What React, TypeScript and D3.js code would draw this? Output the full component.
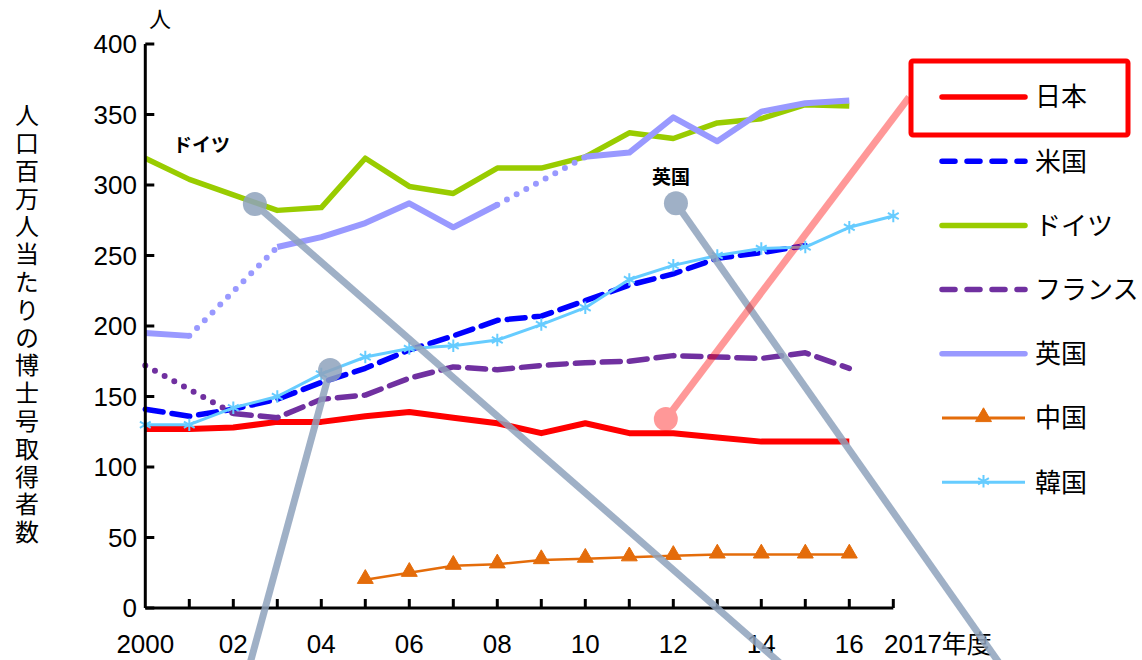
import React from "react";
import * as d3 from "d3";

const years = d3.range(2000, 2018);
// values per year 2000..2017 (null = no data)
const japan = [127, 127, 128, 132, 132, 136, 139, 135, 131, 124, 131, 124, 124, 121, 118, 118, 118, null];
const usa = [141, 136, 141, 148, 160, 170, 183, 193, 204, 207, 218, 229, 237, 248, 252, 257, null, null];
const germany = [319, 304, 293, 282, 284, 319, 299, 294, 312, 312, 320, 337, 333, 344, 347, 357, 356, null];
const france = [172, null, 138, 135, 148, 151, 163, 171, 169, 172, 174, 175, 179, 178, 177, 181, 170, null];
const uk = [195, 193, null, 256, 263, 273, 287, 270, 286, null, 320, 323, 348, 331, 352, 358, 360, null];
const china = [null, null, null, null, null, 20, 25, 30, 31, 34, 35, 36, 37, 38, 38, 38, 38, null];
const korea = [130, 130, 142, 150, 166, 178, 184, 186, 190, 201, 213, 233, 243, 250, 255, 256, 270, 278];

const yTicks = [0, 50, 100, 150, 200, 250, 300, 350, 400];
const xLabelYears = [2000, 2002, 2004, 2006, 2008, 2010, 2012, 2014, 2016];
const xLabelText = ["2000", "02", "04", "06", "08", "10", "12", "14", "16"];
const yTitle = "人口百万人当たりの博士号取得者数";

// annotation callouts in data units: [circleYear, circleValue, endYear, endValue]
const grayCallouts = [
  [2002.49, 286.5, 2014.9, -52],
  [2004.2, 168.8, 2002.27, -52],
  [2012.06, 287, 2019.7, -52],
];
const pinkCallout = [2011.83, 134, 2017.36, 362.4];

type Series = {
  name: string;
  values: (number | null)[];
  color: string;
  width: number;
  dash?: string;
  marker?: "triangle" | "asterisk";
};

const series: Series[] = [
  { name: "日本", values: japan, color: "#ff0000", width: 6 },
  { name: "米国", values: usa, color: "#0000ff", width: 5.5, dash: "18 9" },
  { name: "ドイツ", values: germany, color: "#99cc00", width: 5.5 },
  { name: "フランス", values: france, color: "#7030a0", width: 5.5, dash: "18 9" },
  { name: "英国", values: uk, color: "#9999ff", width: 6 },
  { name: "中国", values: china, color: "#e46c0a", width: 2.5, marker: "triangle" },
  { name: "韓国", values: korea, color: "#66ccff", width: 3, marker: "asterisk" },
];

const FONT = "'Liberation Sans', 'Noto Sans CJK JP', sans-serif";
const JFONT = "'Noto Sans CJK JP', 'Liberation Sans', sans-serif";

export default function App() {
  const x = d3.scaleLinear().domain([2000, 2017]).range([145.3, 893.3]);
  const y = d3.scaleLinear().domain([0, 400]).range([608, 44]);

  const lineGen = d3
    .line<[number, number | null]>()
    .defined((d) => d[1] != null)
    .x((d) => x(d[0]))
    .y((d) => y(d[1] as number));

  // gap segments: connect last valid before a null run to first valid after it
  const gapSegments = (vals: (number | null)[]) => {
    const segs: [number, number][][] = [];
    let last = -1;
    for (let i = 0; i < vals.length; i++) {
      if (vals[i] != null) {
        if (last >= 0 && i - last > 1) {
          segs.push([
            [years[last], vals[last] as number],
            [years[i], vals[i] as number],
          ]);
        }
        last = i;
      }
    }
    return segs;
  };

  const tri = d3.symbol(d3.symbolTriangle, 110)() as string;
  const ast = d3.symbol(d3.symbolAsterisk, 110)() as string;

  const legendY = (i: number) => 97 + 64.2 * i;

  return (
    <svg
      width={1142}
      height={660}
      style={{ position: "absolute", left: 0, top: 0, background: "#fff" }}
      fontFamily={FONT}
    >
      <rect x={0} y={0} width={1142} height={660} fill="#fff" />

      {/* series */}
      {series.map((s) => {
        const pts = years.map((yr, i) => [yr, s.values[i]] as [number, number | null]);
        return (
          <g key={s.name}>
            {gapSegments(s.values).map((seg, k) => (
              <path
                key={k}
                d={d3.line()(seg.map((p) => [x(p[0]), y(p[1])])) as string}
                fill="none"
                stroke={s.color}
                strokeWidth={6}
                strokeDasharray="0 11"
                strokeLinecap="round"
              />
            ))}
            <path
              d={lineGen(pts) as string}
              fill="none"
              stroke={s.color}
              strokeWidth={s.width}
              strokeDasharray={s.dash}
              strokeLinejoin="round"
              strokeLinecap={s.dash ? "round" : "butt"}
            />
            {s.marker &&
              pts
                .filter((p) => p[1] != null)
                .map((p, k) => (
                  <path
                    key={k}
                    d={s.marker === "triangle" ? tri : ast}
                    transform={`translate(${x(p[0])},${y(p[1] as number) + (s.marker === "triangle" ? -1 : 0)})`}
                    fill={s.marker === "triangle" ? s.color : "none"}
                    stroke={s.color}
                    strokeWidth={s.marker === "triangle" ? 1 : 2}
                  />
                ))}
          </g>
        );
      })}

      {/* axes */}
      <g stroke="#000" strokeWidth={3} fill="none">
        <line x1={x(2000)} x2={x(2000)} y1={y(400)} y2={y(0)} />
        <line x1={x(2000)} x2={x(2017)} y1={y(0)} y2={y(0)} />
        {yTicks.map((t) => (
          <line key={t} x1={x(2000)} x2={x(2000) + 9} y1={y(t)} y2={y(t)} />
        ))}
        {years.slice(1).map((yr) => (
          <line key={yr} x1={x(yr)} x2={x(yr)} y1={y(0)} y2={y(0) - 9} />
        ))}
      </g>
      {yTicks.map((t) => (
        <text key={t} x={137} y={y(t)} dy="0.36em" textAnchor="end" fontSize={26} fill="#000">
          {t}
        </text>
      ))}
      {xLabelYears.map((yr, i) => (
        <text key={yr} x={x(yr)} y={653} textAnchor="middle" fontSize={26} fill="#000">
          {xLabelText[i]}
        </text>
      ))}
      <text x={884} y={653} fontSize={26} fill="#000">
        2017
        <tspan fontFamily={JFONT} fontSize={25}>年度</tspan>
      </text>
      <text x={160} y={27} textAnchor="middle" fontSize={22} fontFamily={JFONT} fill="#000">
        人
      </text>
      <text
        x={27}
        y={103}
        fontSize={24}
        fontFamily={JFONT}
        fill="#000"
        letterSpacing={3.8}
        style={{ writingMode: "vertical-rl", textOrientation: "upright" } as any}
      >
        {yTitle}
      </text>

      {/* in-chart labels */}
      <text x={173} y={152} fontSize={19} fontWeight="bold" fontFamily={JFONT} fill="#000">
        ドイツ
      </text>
      <text x={652} y={184} fontSize={19} fontWeight="bold" fontFamily={JFONT} fill="#000">
        英国
      </text>

      {/* legend */}
      {series.map((s, i) => {
        const ly = legendY(i);
        return (
          <g key={s.name}>
            <line
              x1={942}
              x2={1025}
              y1={ly}
              y2={ly}
              stroke={s.color}
              strokeWidth={s.marker ? 3 : 5.5}
              strokeLinecap={s.marker ? "butt" : "round"}
              strokeDasharray={s.dash ? "13 12" : undefined}
            />
            {s.marker && (
              <path
                d={s.marker === "triangle" ? tri : ast}
                transform={`translate(983.5,${ly - 1})`}
                fill={s.marker === "triangle" ? s.color : "none"}
                stroke={s.color}
                strokeWidth={s.marker === "triangle" ? 1 : 2}
              />
            )}
            <text x={1035} y={ly} dy="0.36em" fontSize={26} fontFamily={JFONT} fill="#000">
              {s.name}
            </text>
          </g>
        );
      })}
      <rect x={911} y={61} width={217} height={74} rx={2} fill="none" stroke="#ff0000" strokeWidth={5} />

      {/* callouts */}
      <g opacity={0.85}>
        {grayCallouts.map((c, i) => (
          <g key={i}>
            <line
              x1={x(c[0])}
              y1={y(c[1])}
              x2={x(c[2])}
              y2={y(c[3])}
              stroke="#8fa3bd"
              strokeWidth={7}
            />
            <circle cx={x(c[0])} cy={y(c[1])} r={12} fill="#8fa3bd" />
          </g>
        ))}
      </g>
      <g opacity={0.4}>
        <line
          x1={x(pinkCallout[0])}
          y1={y(pinkCallout[1])}
          x2={x(pinkCallout[2])}
          y2={y(pinkCallout[3])}
          stroke="#ff0000"
          strokeWidth={7}
        />
        <circle cx={x(pinkCallout[0])} cy={y(pinkCallout[1])} r={12} fill="#ff0000" />
      </g>
    </svg>
  );
}
